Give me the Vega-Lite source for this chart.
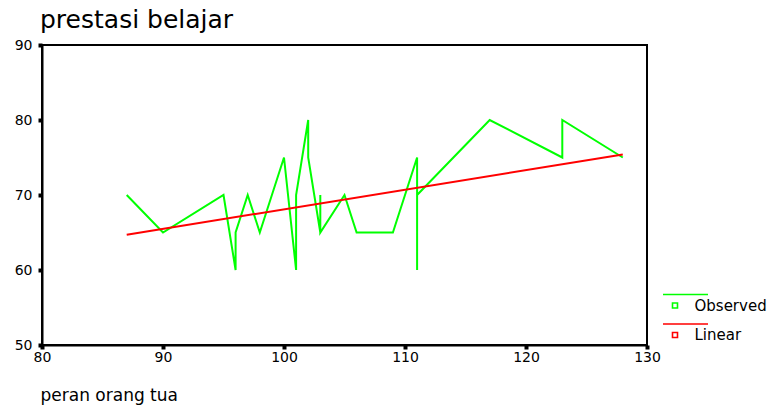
{
  "$schema": "https://vega.github.io/schema/vega-lite/v6.json",
  "width": 605,
  "height": 300,
  "autosize": {"type": "none"},
  "padding": {"left": 42, "top": 45, "right": 130, "bottom": 60},
  "background": "white",
  "title": {
    "text": "prestasi belajar",
    "anchor": "start",
    "frame": "group",
    "dx": -2,
    "font": "DejaVu Sans",
    "fontSize": 25,
    "fontWeight": "normal",
    "color": "black",
    "offset": 5
  },
  "config": {
    "view": {"stroke": "black", "strokeWidth": 2},
    "font": "DejaVu Sans"
  },
  "data": {
    "values": [
      {"x": 87, "y": 70, "s": "Observed", "i": 1},
      {"x": 90, "y": 65, "s": "Observed", "i": 2},
      {"x": 95, "y": 70, "s": "Observed", "i": 3},
      {"x": 96, "y": 60, "s": "Observed", "i": 4},
      {"x": 96, "y": 65, "s": "Observed", "i": 5},
      {"x": 97, "y": 70, "s": "Observed", "i": 6},
      {"x": 98, "y": 65, "s": "Observed", "i": 7},
      {"x": 99, "y": 70, "s": "Observed", "i": 8},
      {"x": 100, "y": 75, "s": "Observed", "i": 9},
      {"x": 101, "y": 60, "s": "Observed", "i": 10},
      {"x": 101, "y": 70, "s": "Observed", "i": 11},
      {"x": 102, "y": 80, "s": "Observed", "i": 12},
      {"x": 102, "y": 75, "s": "Observed", "i": 13},
      {"x": 103, "y": 65, "s": "Observed", "i": 14},
      {"x": 103, "y": 70, "s": "Observed", "i": 15},
      {"x": 103, "y": 65, "s": "Observed", "i": 16},
      {"x": 105, "y": 70, "s": "Observed", "i": 17},
      {"x": 106, "y": 65, "s": "Observed", "i": 18},
      {"x": 109, "y": 65, "s": "Observed", "i": 19},
      {"x": 111, "y": 75, "s": "Observed", "i": 20},
      {"x": 111, "y": 60, "s": "Observed", "i": 21},
      {"x": 111, "y": 70, "s": "Observed", "i": 22},
      {"x": 117, "y": 80, "s": "Observed", "i": 23},
      {"x": 123, "y": 75, "s": "Observed", "i": 24},
      {"x": 123, "y": 80, "s": "Observed", "i": 25},
      {"x": 128, "y": 75, "s": "Observed", "i": 26},
      {"x": 87, "y": 64.7, "s": "Linear", "i": 1},
      {"x": 128, "y": 75.4, "s": "Linear", "i": 2}
    ]
  },
  "mark": {"type": "line", "strokeWidth": 2},
  "encoding": {
    "x": {
      "field": "x",
      "type": "quantitative",
      "scale": {"domain": [80, 130], "nice": false, "zero": false},
      "axis": {
        "values": [80, 90, 100, 110, 120, 130],
        "title": "peran orang tua",
        "titleFont": "DejaVu Sans",
        "titleFontSize": 17,
        "titleFontWeight": "normal",
        "titleColor": "black",
        "titleAnchor": "start",
        "titleAlign": "left",
        "titleBaseline": "alphabetic",
        "titleX": -2,
        "titleY": 55,
        "grid": false,
        "domainColor": "black",
        "domainWidth": 2,
        "tickColor": "black",
        "tickSize": 4,
        "tickWidth": 4,
        "labelFont": "DejaVu Sans",
        "labelFontSize": 14,
        "labelColor": "black",
        "labelPadding": 1,
        "labelFlush": false
      }
    },
    "y": {
      "field": "y",
      "type": "quantitative",
      "scale": {"domain": [50, 90], "nice": false, "zero": false},
      "axis": {
        "values": [50, 60, 70, 80, 90],
        "title": null,
        "grid": false,
        "domainColor": "black",
        "domainWidth": 2,
        "tickColor": "black",
        "tickSize": 4,
        "tickWidth": 4,
        "labelFont": "DejaVu Sans",
        "labelFontSize": 14,
        "labelColor": "black",
        "labelPadding": 6,
        "labelFlush": false
      }
    },
    "color": {
      "field": "s",
      "type": "nominal",
      "scale": {"domain": ["Observed", "Linear"], "range": ["#00ff00", "#ff0000"]},
      "legend": {
        "title": null,
        "orient": "none",
        "legendX": 625.5,
        "legendY": 253,
        "padding": 0,
        "symbolType": "M-4.8,-4.4H13.2M-1,-1H1V1H-1Z",
        "symbolSize": 25,
        "symbolStrokeWidth": 1.6,
        "symbolFillColor": "transparent",
        "labelFont": "DejaVu Sans",
        "labelFontSize": 15,
        "labelColor": "black",
        "labelOffset": 12,
        "rowPadding": 6.5
      }
    },
    "order": {"field": "i", "type": "quantitative"}
  }
}
